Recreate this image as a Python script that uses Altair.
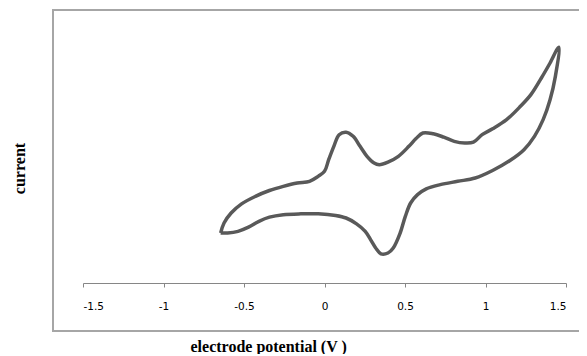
import altair as alt
import pandas as pd

# Cyclic voltammogram: forward (upper) branch then reverse (lower) branch
potential = [
    -0.645, -0.624, -0.580, -0.515, -0.429, -0.342, -0.256, -0.169, -0.093, -0.039,
    0.000, 0.026, 0.058, 0.091, 0.134, 0.178, 0.221, 0.264, 0.308, 0.340,
    0.394, 0.459, 0.524, 0.567, 0.611, 0.676, 0.741, 0.806, 0.871, 0.925,
    0.979, 1.044, 1.131, 1.217, 1.282, 1.347, 1.401, 1.455,
    1.434, 1.401, 1.358, 1.304, 1.239, 1.152, 1.044, 0.936, 0.827, 0.719,
    0.632, 0.578, 0.535, 0.502, 0.470, 0.427, 0.394, 0.351, 0.318, 0.286,
    0.253, 0.199, 0.134, 0.069, -0.039, -0.147, -0.256, -0.342, -0.407, -0.472,
    -0.537, -0.602, -0.645,
]
current = [
    6.0, 7.2, 8.4, 9.5, 10.4, 11.1, 11.6, 12.0, 12.2, 12.8,
    13.4, 14.8, 16.4, 17.8, 18.1, 17.6, 16.4, 15.2, 14.4, 14.2,
    14.5, 15.2, 16.4, 17.3, 18.0, 17.9, 17.5, 17.0, 16.8, 16.9,
    17.8, 18.5, 19.6, 21.2, 22.6, 24.6, 26.4, 28.3,
    24.8, 22.0, 19.6, 17.6, 16.0, 14.7, 13.5, 12.6, 12.2, 11.8,
    11.3, 10.6, 9.6, 8.0, 6.0, 4.2, 3.6, 3.5, 4.2, 5.2,
    6.2, 7.1, 7.8, 8.1, 8.3, 8.3, 8.2, 7.9, 7.4, 6.7,
    6.2, 6.0, 6.0,
]
x_ticks = [-1.5, -1, -0.5, 0, 0.5, 1, 1.5]

df = pd.DataFrame({"idx": list(range(len(potential))), "potential": potential, "current": current})

line = alt.Chart(df).mark_line(
    color="#595959", strokeWidth=3.5, interpolate="catmull-rom"
).encode(
    x=alt.X("potential:Q",
            scale=alt.Scale(domain=[-1.5, 1.5], nice=False, zero=False),
            axis=alt.Axis(values=x_ticks, grid=False, domainColor="#868686", tickColor="#868686",
                          tickSize=4, labelPadding=14, labelFont="DejaVu Sans", labelFontSize=10.5,
                          labelColor="#000000", labelExpr="datum.value + ''",
                          title="electrode potential (V )", titleFont="Liberation Serif",
                          titleFontSize=16, titleFontWeight="bold", titleColor="#000000",
                          titleAlign="left", titleX=107, titleY=68, titleBaseline="alphabetic")),
    y=alt.Y("current:Q",
            scale=alt.Scale(domain=[0, 31.2], nice=False, zero=False),
            axis=alt.Axis(labels=False, ticks=False, domain=False, grid=False,
                          title="current", titleFont="Liberation Serif", titleFontSize=16,
                          titleFontWeight="bold", titleColor="#000000", titleAngle=270,
                          titleAlign="center", titleBaseline="middle", titleX=-64, titleY=145)),
    order="idx:Q",
)

frame_df = pd.DataFrame({"a": [0]})
border_color = "#a6a6a6"
left_edge = alt.Chart(frame_df).mark_rule(color=border_color, strokeWidth=2).encode(
    x=alt.value(-30), y=alt.value(-13), y2=alt.value(308))
top_edge = alt.Chart(frame_df).mark_rule(color=border_color, strokeWidth=2).encode(
    x=alt.value(-31), x2=alt.value(500), y=alt.value(-13))
bottom_edge = alt.Chart(frame_df).mark_rule(color=border_color, strokeWidth=2).encode(
    x=alt.value(-31), x2=alt.value(500), y=alt.value(308))

chart = alt.layer(left_edge, top_edge, bottom_edge, line).properties(
    width=483, height=260,
    autosize="none",
    padding={"left": 75, "top": 15, "right": 13, "bottom": 71},
    background="white",
).configure_view(stroke=None)

chart.save("out.html", embed_options={"renderer": "svg", "actions": False})
